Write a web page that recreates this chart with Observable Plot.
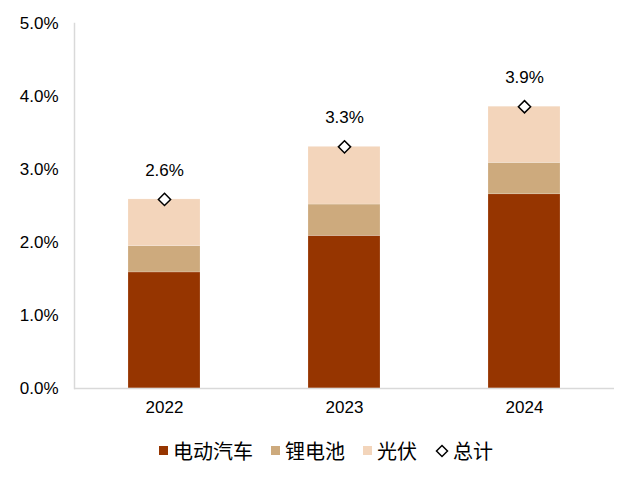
<!DOCTYPE html>
<html><head><meta charset="utf-8">
<script src="https://cdn.jsdelivr.net/npm/d3@7"></script>
<script src="https://cdn.jsdelivr.net/npm/@observablehq/plot@0.6"></script>
<style>
body{margin:0;background:#fff;font-family:"Liberation Sans","Noto Sans CJK SC",sans-serif;}
#legend{display:flex;justify-content:center;align-items:center;gap:0;font-family:"Noto Sans CJK SC",sans-serif;font-size:20px;color:#000;margin-top:6px;padding-left:14px}
.item{display:flex;align-items:center;margin:0 9px}
.sw{width:9px;height:9px;margin-right:5px}
</style></head><body>
<div id="chart"></div>
<div id="legend"></div>
<script>
const years = ["2022","2023","2024"];
const seriesNames = ["电动汽车","锂电池","光伏"];
const colors = ["#963500","#CDAA7D","#F3D5BB"];
const ev = [1.59, 2.09, 2.66];
const lithium = [0.36, 0.43, 0.43];
const solar = [0.64, 0.79, 0.77];
const totalLabel = "总计";
const yTicks = [0,1,2,3,4,5];

const rows = [];
[ev, lithium, solar].forEach((arr, si) => arr.forEach((v, i) => rows.push({year: years[i], series: seriesNames[si], value: v})));
const totals = years.map((y, i) => ({year: y, total: ev[i] + lithium[i] + solar[i]}));

const fmt = v => v.toFixed(1) + "%";

const chart = Plot.plot({
  width: 638, height: 430,
  marginLeft: 74, marginRight: 24, marginTop: 23, marginBottom: 42,
  style: {fontFamily: '"Liberation Sans","Noto Sans CJK SC",sans-serif', fontSize: "16px", color: "#000", background: "#fff"},
  x: {domain: years, paddingInner: 0.6, paddingOuter: 0.3, label: null},
  y: {domain: [0, 5], label: null},
  color: {domain: seriesNames, range: colors},
  marks: [
    Plot.barY(rows, {x: "year", y: "value", fill: "series", order: seriesNames, stroke: "#fff", strokeOpacity: 0.35, strokeWidth: 0.5}),
    Plot.frame({anchor: "left", stroke: "#D9D9D9", strokeWidth: 1.5}),
    Plot.ruleY([0], {stroke: "#D9D9D9", strokeWidth: 1.5}),
    Plot.axisY({ticks: yTicks, tickFormat: fmt, tickSize: 0, tickPadding: 16, fontSize: 17, style: {letterSpacing: "1px"}}),
    Plot.axisX({tickSize: 0, tickPadding: 12, fontSize: 17}),
    Plot.dot(totals, {x: "year", y: "total", symbol: "diamond2", r: 5.5, fill: "#fff", stroke: "#000", strokeWidth: 1.5}),
    Plot.text(totals, {x: "year", y: "total", text: d => fmt(d.total), dy: -29, fontSize: 17, fill: "#000"})
  ]
});
document.getElementById("chart").appendChild(chart);

const lg = document.getElementById("legend");
seriesNames.forEach((s, i) => {
  const it = document.createElement("div"); it.className = "item";
  it.innerHTML = `<span class="sw" style="background:${colors[i]}"></span><span>${s}</span>`;
  lg.appendChild(it);
});
const it = document.createElement("div"); it.className = "item";
it.innerHTML = `<svg width="14" height="14" style="margin-right:4px"><path d="M7 1.5L12.5 7L7 12.5L1.5 7Z" fill="#fff" stroke="#000" stroke-width="1.5"/></svg><span>${totalLabel}</span>`;
lg.appendChild(it);
</script>
</body></html>
